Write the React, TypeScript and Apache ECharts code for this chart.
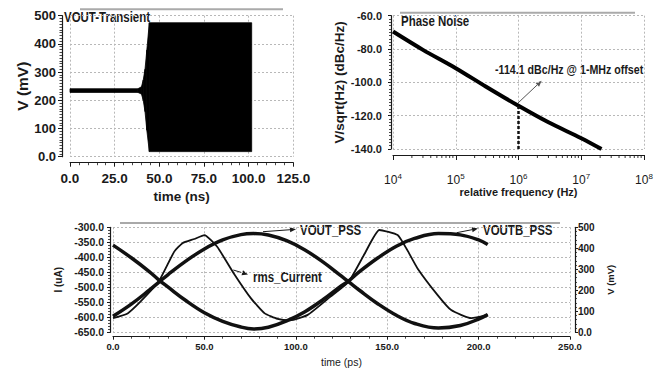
import React, { useEffect, useRef } from 'react';
import * as echarts from 'echarts';

// ---------- data ----------
// Top-left: VOUT transient envelope (time ns, mV)
const TRANSIENT_T = [0, 38, 40, 41, 42, 43, 44.4, 101.7];
const TRANSIENT_HI = [241, 241, 248, 272, 310, 378, 475, 475];
const TRANSIENT_LO = [228, 228, 222, 200, 160, 94, 18, 18];

// Top-right: phase noise (Hz, dBc/Hz)
const PN_FREQ = [1e4, 3e4, 1e5, 3e5, 1e6, 3e6, 1e7, 2.1e7];
const PN_DBC = [-69.5, -80.5, -91.5, -102.5, -114.1, -124, -133.5, -140];
const PN_MARK_FREQ = 1e6;
const PN_MARK_DBC = -114.1;
const PN_DECADES = [1e4, 1e5, 1e6, 1e7];
const PN_MINOR_MULT = [2, 3, 4, 5, 6, 7, 8, 9];

// Bottom: PSS waveforms (time ps)
const PSS_T = [0, 10, 20, 25, 30, 40, 50, 60, 70, 77, 85, 95, 105, 115, 125, 129, 135, 145, 155, 165, 178, 190, 200, 205];
const VOUT_PSS = [76, 134, 202, 238, 274, 340, 397, 440, 465, 470, 463, 436, 392, 334, 267, 240, 199, 135, 81, 42, 20, 32, 63, 84];
const VOUTB_PSS = [415, 355, 288, 250, 216, 150, 93, 52, 25, 16, 24, 54, 98, 156, 222, 245, 290, 355, 410, 447, 470, 464, 440, 418];
const RMS_T = [0, 8, 15, 25, 33.5, 38, 44.5, 50, 57, 66, 75.5, 83, 90, 97, 106.5, 119, 129, 137.5, 145.7, 155.7, 161, 166.6, 177.6, 185, 196, 205];
const RMS_UA = [-603, -587, -548, -481, -381, -353, -339, -326, -365, -453, -537, -587, -605, -610, -592, -531, -481, -390, -309, -326, -376, -437, -526, -576, -603, -592];

const SANS = "'Liberation Sans', Arial, sans-serif";
const INK = '#1a1a1a';
const GRIDC = '#b8b8b8';

function arrow(x1: number, y1: number, x2: number, y2: number, color: string, w: number, head = 6) {
  const a = Math.atan2(y2 - y1, x2 - x1);
  const hx = x2 - head * Math.cos(a);
  const hy = y2 - head * Math.sin(a);
  const px = Math.sin(a) * head * 0.42;
  const py = -Math.cos(a) * head * 0.42;
  return [
    { type: 'line', silent: true, shape: { x1, y1, x2: hx, y2: hy }, style: { stroke: color, lineWidth: w } },
    { type: 'polygon', silent: true, shape: { points: [[x2, y2], [hx + px, hy + py], [hx - px, hy - py]] }, style: { fill: color } },
  ];
}

// narrow bold label (Arial-Narrow look via horizontal scaling)
function label(text: string, x: number, y: number, size: number) {
  return {
    type: 'text', silent: true, x, y, scaleX: 0.82,
    style: { text, fill: INK, font: `bold ${size}px ${SANS}`, verticalAlign: 'middle', align: 'left' },
  };
}

export default function App() {
  const ref = useRef<HTMLDivElement>(null);
  useEffect(() => {
    document.body.style.margin = '0';
    const chart = echarts.init(ref.current!, null, { renderer: 'svg' });

    const tick = (len: number) => ({ show: true, length: len, lineStyle: { color: INK, width: 1 } });
    const minor = (n: number, len: number) => ({ show: true, splitNumber: n, length: len, lineStyle: { color: INK, width: 0.8 } });
    const split = { show: true, lineStyle: { color: GRIDC, type: [2, 2], width: 1 } };
    const line = { show: true, onZero: false, lineStyle: { color: INK, width: 1.2 } };

    const minorFreqs: number[][] = [];
    PN_DECADES.forEach((d) => PN_MINOR_MULT.forEach((m) => minorFreqs.push([d * m, -140])));

    const option: any = {
      animation: false,
      backgroundColor: '#fff',
      grid: [
        { left: 70, top: 15.7, width: 223.3, height: 141, outerBoundsMode: 'none' },
        { left: 393, top: 15.7, width: 251, height: 133.3, outerBoundsMode: 'none' },
        { left: 113, top: 227.3, width: 457, height: 105, outerBoundsMode: 'none' },
      ],
      xAxis: [
        {
          gridIndex: 0, type: 'value', min: 0, max: 125, interval: 25, offset: 6,
          axisLine: line, axisTick: tick(4), minorTick: minor(5, 2.5), splitLine: split,
          axisLabel: { formatter: (v: number) => v.toFixed(1), fontSize: 13.5, fontWeight: 'bold', color: INK, margin: 9, fontFamily: SANS },
          name: 'time (ns)', nameLocation: 'middle', nameGap: 27,
          nameTextStyle: { fontSize: 13.5, fontWeight: 'bold', color: INK, fontFamily: SANS },
        },
        {
          gridIndex: 1, type: 'log', logBase: 10, min: 1e4, max: 1e8, offset: 6,
          axisLine: line, axisTick: tick(5), splitLine: split,
          axisLabel: {
            margin: 17, color: INK, fontFamily: SANS,
            formatter: (v: number) => `{b|10}{s|${Math.round(Math.log10(v))}}`,
            rich: {
              b: { fontSize: 12, fontFamily: SANS, color: INK },
              s: { fontSize: 8, fontFamily: SANS, color: INK, padding: [0, 0, 8, 0] },
            },
          },
          name: 'relative frequency (Hz)', nameLocation: 'middle', nameGap: 31,
          nameTextStyle: { fontSize: 11, fontWeight: 'bold', color: INK, fontFamily: SANS },
        },
        {
          gridIndex: 2, type: 'value', min: 0, max: 250, interval: 50, offset: 4.4,
          axisLine: line, axisTick: tick(3), minorTick: minor(5, 2), splitLine: split,
          axisLabel: { formatter: (v: number) => v.toFixed(1), fontSize: 9.5, fontWeight: 'bold', color: INK, margin: 4.5, fontFamily: SANS },
          name: 'time (ps)', nameLocation: 'middle', nameGap: 20,
          nameTextStyle: { fontSize: 10.5, color: INK, fontFamily: SANS },
        },
      ],
      yAxis: [
        {
          gridIndex: 0, type: 'value', min: 0, max: 500, interval: 100, offset: 8,
          axisLine: line, axisTick: tick(4), minorTick: minor(10, 2.5), splitLine: split,
          axisLabel: { formatter: (v: number) => (v === 0 ? '0.0' : String(v)), fontSize: 13, fontWeight: 'bold', color: INK, margin: 6, fontFamily: SANS },
          name: 'V (mV)', nameLocation: 'middle', nameRotate: 90, nameGap: 31,
          nameTextStyle: { fontSize: 15.5, fontWeight: 'bold', color: INK, fontFamily: SANS },
        },
        {
          gridIndex: 1, type: 'value', min: -140, max: -60, interval: 20, offset: 2,
          axisLine: line, axisTick: tick(3), minorTick: minor(10, 2), splitLine: split,
          axisLabel: { formatter: (v: number) => v.toFixed(1), fontSize: 11, fontWeight: 'bold', color: INK, margin: 9, fontFamily: SANS },
          name: 'V/sqrt(Hz) (dBc/Hz)', nameLocation: 'middle', nameRotate: 90, nameGap: 39,
          nameTextStyle: { fontSize: 13.5, fontWeight: 'bold', color: INK, fontFamily: SANS },
        },
        {
          gridIndex: 2, type: 'value', min: -650, max: -300, interval: 50, offset: 3,
          axisLine: line, axisTick: tick(3), minorTick: minor(5, 2), splitLine: split,
          axisLabel: { formatter: (v: number) => v.toFixed(1), fontSize: 10.5, fontWeight: 'bold', color: INK, margin: 6, fontFamily: SANS },
          name: 'I (uA)', nameLocation: 'middle', nameRotate: 90, nameGap: 40,
          nameTextStyle: { fontSize: 10, fontWeight: 'bold', color: INK, fontFamily: SANS },
        },
        {
          gridIndex: 2, type: 'value', position: 'right', min: 0, max: 500, interval: 100, offset: 5,
          axisLine: line, axisTick: tick(3), minorTick: minor(5, 2), splitLine: { show: false },
          axisLabel: { formatter: (v: number) => (v === 0 ? '0.0' : String(v)), fontSize: 10, fontWeight: 'bold', color: INK, margin: 3, fontFamily: SANS },
          name: 'V (mV)', nameLocation: 'middle', nameRotate: 90, nameGap: 19,
          nameTextStyle: { fontSize: 9.5, fontWeight: 'bold', color: INK, fontFamily: SANS },
        },
      ],
      series: [
        {
          type: 'custom', name: 'VOUT-Transient', xAxisIndex: 0, yAxisIndex: 0,
          data: TRANSIENT_T.map((t, i) => [t, TRANSIENT_LO[i], TRANSIENT_HI[i]]),
          encode: { x: 0, y: [1, 2] },
          renderItem: (params: any, api: any) => {
            const i = params.dataIndex;
            if (i >= TRANSIENT_T.length - 1) return { type: 'group', children: [] };
            const a = api.coord([TRANSIENT_T[i], TRANSIENT_HI[i]]);
            const b = api.coord([TRANSIENT_T[i + 1], TRANSIENT_HI[i + 1]]);
            const c = api.coord([TRANSIENT_T[i + 1], TRANSIENT_LO[i + 1]]);
            const d = api.coord([TRANSIENT_T[i], TRANSIENT_LO[i]]);
            return { type: 'polygon', shape: { points: [a, b, c, d] }, style: { fill: '#000', stroke: '#000', lineWidth: 0.8 } };
          },
        },
        {
          type: 'line', name: 'Phase Noise', xAxisIndex: 1, yAxisIndex: 1,
          data: PN_FREQ.map((f, i) => [f, PN_DBC[i]]),
          smooth: 0.3, symbol: 'none', lineStyle: { color: '#000', width: 4 },
        },
        {
          type: 'line', name: 'marker', xAxisIndex: 1, yAxisIndex: 1,
          data: [[PN_MARK_FREQ, -140], [PN_MARK_FREQ, PN_MARK_DBC]],
          symbol: 'none', lineStyle: { color: '#111', width: 2.5, type: [3, 2] },
        },
        {
          type: 'custom', name: 'logMinor', xAxisIndex: 1, yAxisIndex: 1, clip: false, silent: true,
          data: minorFreqs,
          renderItem: (params: any, api: any) => {
            const p = api.coord([api.value(0), -140]);
            return { type: 'line', shape: { x1: p[0], y1: p[1] + 6, x2: p[0], y2: p[1] + 9 }, style: { stroke: INK, lineWidth: 0.9 } };
          },
        },
        {
          type: 'line', name: 'VOUT_PSS', xAxisIndex: 2, yAxisIndex: 3,
          data: PSS_T.map((t, i) => [t, VOUT_PSS[i]]),
          smooth: 0.4, symbol: 'none', lineStyle: { color: '#111', width: 3.5 },
        },
        {
          type: 'line', name: 'VOUTB_PSS', xAxisIndex: 2, yAxisIndex: 3,
          data: PSS_T.map((t, i) => [t, VOUTB_PSS[i]]),
          smooth: 0.4, symbol: 'none', lineStyle: { color: '#111', width: 3.5 },
        },
        {
          type: 'line', name: 'rms_Current', xAxisIndex: 2, yAxisIndex: 2,
          data: RMS_T.map((t, i) => [t, RMS_UA[i]]),
          smooth: 0.15, symbol: 'none', lineStyle: { color: '#111', width: 1.8 },
        },
      ],
      graphic: [
        { type: 'line', silent: true, shape: { x1: 80, y1: 9.3, x2: 283, y2: 9.3 }, style: { stroke: '#aaa', lineWidth: 2 } },
        { type: 'line', silent: true, shape: { x1: 400, y1: 12.7, x2: 635, y2: 12.7 }, style: { stroke: '#aaa', lineWidth: 2 } },
        { type: 'line', silent: true, shape: { x1: 120, y1: 223, x2: 560, y2: 223 }, style: { stroke: '#555', lineWidth: 1.2 } },
        label('VOUT-Transient', 64, 16.7, 14),
        label('Phase Noise', 401, 20.7, 14),
        label('-114.1 dBc/Hz @ 1-MHz offset', 495, 70, 13),
        label('VOUT_PSS', 300, 230, 14),
        label('VOUTB_PSS', 483, 230, 14),
        label('rms_Current', 253, 277, 14),
        ...arrow(518, 103, 541.7, 80.7, '#555', 1),
        ...arrow(263, 231.7, 296, 229.3, INK, 1),
        ...arrow(456.7, 232.7, 478, 228.5, INK, 1),
        ...arrow(233.3, 270, 248, 274.5, INK, 1),
      ],
    };

    chart.setOption(option);
    return () => chart.dispose();
  }, []);
  return <div ref={ref} style={{ width: 665, height: 369, background: '#fff' }} />;
}
